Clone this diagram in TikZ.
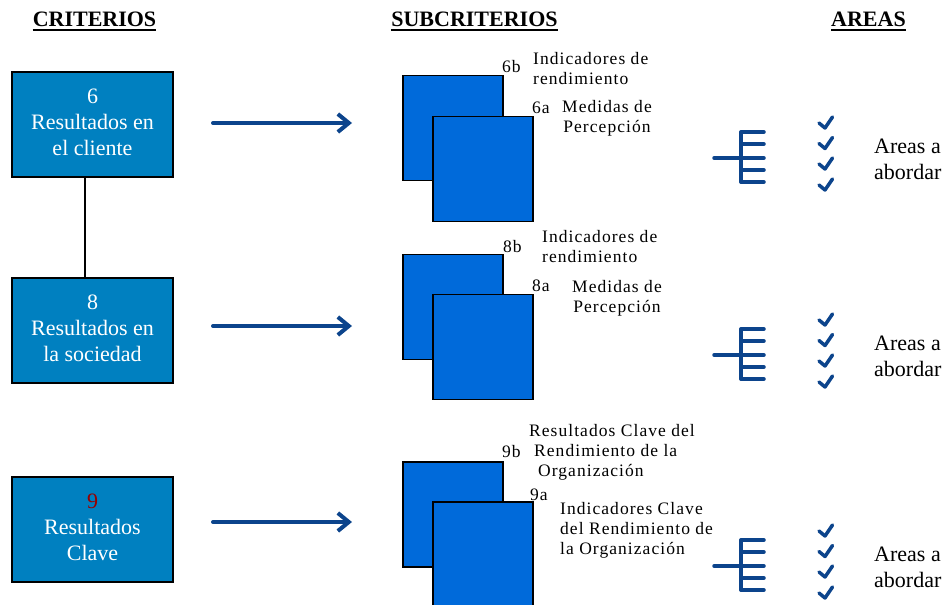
\documentclass[tikz,border=0pt]{standalone}
\usepackage{fontspec}
\setmainfont{Liberation Serif}
\newfontfamily\spacedfont[LetterSpace=6]{Liberation Serif}
\usepackage{xcolor}
\usepackage{tikz}
\usetikzlibrary{positioning}
\usetikzlibrary{arrows.meta}
\definecolor{boxblue}{RGB}{0,128,192}
\definecolor{sqblue}{RGB}{0,106,218}
\definecolor{arrowblue}{RGB}{12,68,140}
\definecolor{numred}{RGB}{150,0,0}

\begin{document}
\begin{tikzpicture}[x=1pt,y=-1pt,
	crit/.style={draw=black,line width=1.5pt,fill=boxblue,text=white,minimum width=161pt,minimum height=105pt,text depth=4pt,align=center,font=\fontsize{22}{26}\selectfont},
	head/.style={anchor=base,inner sep=0pt,font=\fontsize{22}{26}\selectfont\bfseries},
	sq/.style={draw=black,line width=1.5pt,fill=sqblue,minimum width=100pt,minimum height=105pt,inner sep=0pt},
	sub/.style={inner sep=0pt,anchor=west,font=\spacedfont\fontsize{17.5}{20}\selectfont},
	arr/.style={-{Straight Barb[length=11pt,width=18pt]},line width=4pt,arrowblue,line cap=round},
	comb/.style={line width=3.5pt,arrowblue,line cap=round},
	tick/.style={line width=3.5pt,arrowblue,line cap=round,line join=round},
	area/.style={anchor=west,inner sep=0pt,align=left,font=\fontsize{22}{26}\selectfont}]
		\useasboundingbox (0,0) rectangle (946,605);
		
		% headers
		\node[head] (hcrit) at (94.5,27) {CRITERIOS};
		\node[head] (hsub) at (474.5,27) {SUBCRITERIOS};
		\node[head] (hareas) at (868.5,27) {AREAS};
		\draw[line width=2pt] ([yshift=-2.5pt]hcrit.base west) -- ([yshift=-2.5pt]hcrit.base east);
		\draw[line width=2pt] ([yshift=-2.5pt]hsub.base west) -- ([yshift=-2.5pt]hsub.base east);
		\draw[line width=2pt] ([yshift=-2.5pt]hareas.base west) -- ([yshift=-2.5pt]hareas.base east);
		
		% criteria
		\node[crit] (c6) at (92.5,124.5) {6\\Resultados en\\el cliente};
		\node[crit] (c8) at (92.5,330.5) {8\\Resultados en\\la sociedad};
		\node[crit] (c9) at (92.5,529.5) {\textcolor{numred}{9}\\Resultados\\Clave};
		\draw[line width=1.5pt] ([xshift=-7.5pt]c6.south) -- ([xshift=-7.5pt]c8.north);
		
		% arrows
		\coordinate (a6s) at (213,123);
		\coordinate (a6e) at (352,123);
		\coordinate (a8s) at (213,326);
		\coordinate (a8e) at (352,326);
		\coordinate (a9s) at (213,522);
		\coordinate (a9e) at (352,522);
		\draw[arr] (a6s) -- (a6e);
		\draw[arr] (a8s) -- (a8e);
		\draw[arr] (a9s) -- (a9e);
		
		% subcriteria squares
		\node[sq] (s6b) at (453,128) {};
		\node[sq] (s6a) at (483,169) {};
		\node[sq] (s8b) at (453,307) {};
		\node[sq] (s8a) at (483,347) {};
		\node[sq] (s9b) at (453,514.5) {};
		\begin{scope}
			\clip (0,0) rectangle (946,605);
			\node[sq,minimum height=120pt] (s9a) at (483,562) {};
		\end{scope}
		
		% subcriteria labels
		\node[sub] (l6b) at (502,67) {6b};
		\node[sub,align=left] (t6b) at (533,69) {Indicadores de\\rendimiento};
		\node[sub] (l6a) at (532,108) {6a};
		\node[sub,anchor=center,align=center] (t6a) at (607,118) {Medidas de\\Percepción};
		
		\node[sub] (l8b) at (503,247) {8b};
		\node[sub,align=left] (t8b) at (542,247) {Indicadores de\\rendimiento};
		\node[sub] (l8a) at (532,286) {8a};
		\node[sub,anchor=center,align=center] (t8a) at (617,298) {Medidas de\\Percepción};
		
		\node[sub] (l9b) at (502,452) {9b};
		\node[sub,align=left] (t9b) at (529,452) {Resultados Clave del\\\hspace*{5pt}Rendimiento de la\\\hspace*{9pt}Organización};
		\node[sub] (l9a) at (530,495) {9a};
		\node[sub,align=left] (t9a) at (560,530) {Indicadores Clave\\del Rendimiento de\\la Organización};
		
		% areas
		\foreach \dy/\n in {0/6,197/8,408/9} {
			\draw[comb] (714,158+\dy) -- (764,158+\dy);
			\draw[comb] (741,132+\dy) -- (741,182+\dy);
			\foreach \ty in {132,144,170,182}
				\draw[comb] (741,\ty+\dy) -- (764,\ty+\dy);
			\foreach \cy in {123,143.5,164,185}
				\draw[tick] (819,\cy+\dy) -- (825,\cy+\dy+5) -- (832.5,\cy+\dy-6);
			\node[area] (ar\n) at (874,159+\dy) {Areas a\\abordar};
		}
		
	\end{tikzpicture}
\end{document}
